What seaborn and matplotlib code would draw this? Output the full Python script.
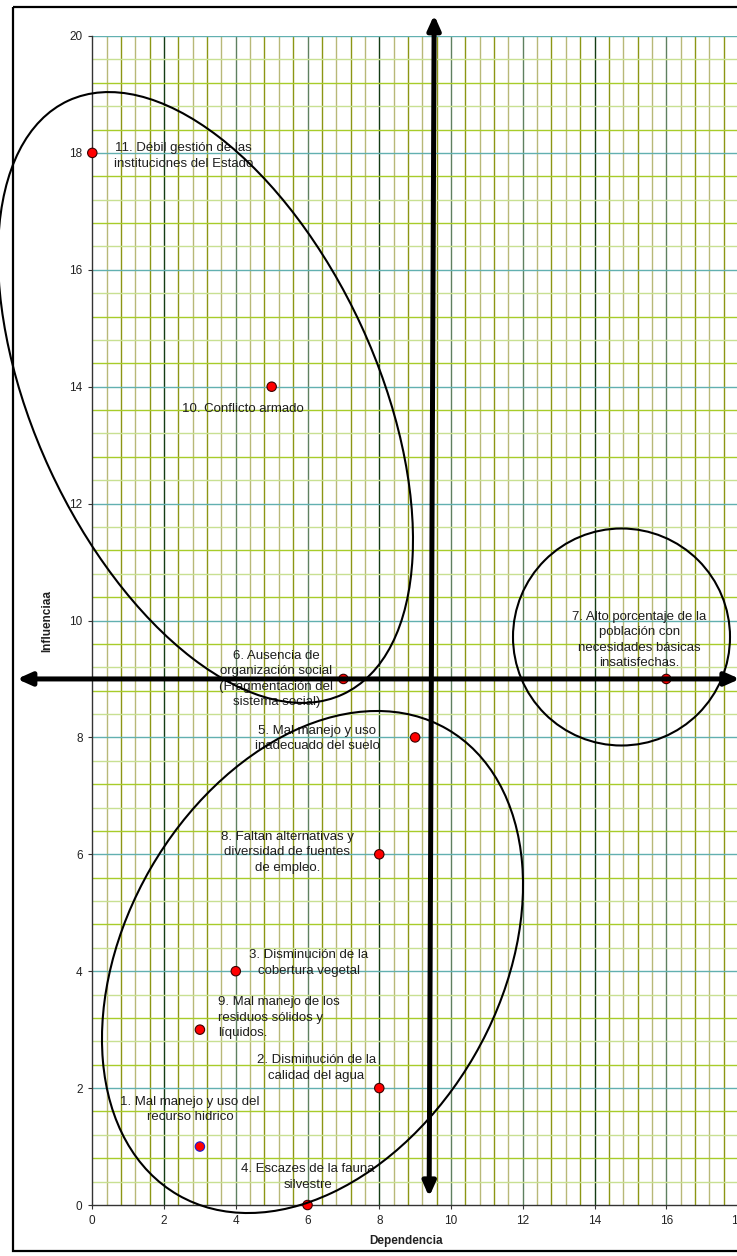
import numpy as np
import pandas as pd
import matplotlib
matplotlib.use("Agg")
import matplotlib.pyplot as plt
import seaborn as sns
from matplotlib.patches import Ellipse, Rectangle, FancyArrowPatch
from matplotlib.transforms import Affine2D

# ---------------- data ----------------
problem_labels = [
    "1. Mal manejo y uso del\nrecurso hidrico",
    "2. Disminución de la\ncalidad del agua",
    "3. Disminución de la\ncobertura vegetal",
    "4. Escazes de la fauna\nsilvestre",
    "5. Mal manejo y uso\ninadecuado del suelo",
    "6. Ausencia de\norganización social\n(Fragmentación del\nsistema social)",
    "7. Alto porcentaje de la\npoblación con\nnecesidades básicas\ninsatisfechas.",
    "8. Faltan alternativas y\ndiversidad de fuentes\nde empleo.",
    "9. Mal manejo de los\nresiduos sólidos y\nlíquidos.",
    "10. Conflicto armado",
    "11. Débil gestión de las\ninstituciones del Estado",
]
dependencia = [3, 8, 4, 6, 9, 7, 16, 8, 3, 5, 0]
influencia = [1, 2, 4, 0, 8, 9, 9, 6, 3, 14, 18]
x_ticks = [0, 2, 4, 6, 8, 10, 12, 14, 16, 18]
y_ticks = [0, 2, 4, 6, 8, 10, 12, 14, 16, 18, 20]
x_label = "Dependencia"
y_label = "Influenciaa"

df = pd.DataFrame({"dependencia": dependencia, "influencia": influencia,
                   "label": problem_labels})

# label offsets (pixels) and alignment
label_offsets = [(-10, 37), (-63, 20), (73, 8), (0, 28), (-98, -1), (-67, 0),
                 (-27, 39), (-92, 2), (18, 12), (-29, -22), (91, -3)]
label_ha = ["center"] * 8 + ["left"] + ["center"] * 2
edge_colors = ["#1a1acc"] + ["#3a0000"] * 10

# ---------------- figure ----------------
sns.set_style("ticks")
plt.rcParams["font.family"] = ["Liberation Sans", "DejaVu Sans"]

W, H = 737, 1256
fig = plt.figure(figsize=(W / 100, H / 100), dpi=100)
ax = fig.add_axes([92.3 / W, 1 - 1205 / H, 645.7 / W, 1169 / H])
ax.set_xlim(0, 18)
ax.set_ylim(0, 20)

# grid lines
vx = np.round(np.arange(0.4, 18.0, 0.4), 1)
vcol = []
for i, v in enumerate(vx):
    if abs(v / 2 - round(v / 2)) < 1e-6:
        vcol.append("#143c14" if int(round(v)) in (2, 8, 14) else "#5f8060")
    else:
        vcol.append("#b8b878" if i % 2 == 0 else "#8c9614")
ax.vlines(vx, 0, 20, colors=vcol, linewidth=1.0, zorder=0.5)

hy = np.round(np.arange(0.4, 20.01, 0.4), 1)
hcol = []
for i, v in enumerate(hy):
    if abs(v / 2 - round(v / 2)) < 1e-6:
        hcol.append("#62b0b0")
    else:
        hcol.append("#c8e092" if i % 2 == 0 else "#a8cc2a")
ax.hlines(hy, 0, 18, colors=hcol, linewidth=1.0, zorder=0.6)

# points
sns.scatterplot(data=df, x="dependencia", y="influencia", color="#ff0000",
                edgecolor=edge_colors, s=46, linewidth=0.8, zorder=5,
                clip_on=False, ax=ax, legend=False)

# labels
for (x, y, lab), (dx, dy), ha in zip(df[["dependencia", "influencia", "label"]].values,
                                     label_offsets, label_ha):
    ax.annotate(lab, xy=(x, y), xytext=(dx, dy), textcoords="offset pixels",
                ha=ha, va="center", multialignment=ha, fontsize=9.5,
                color="#1e1e1e", zorder=6, linespacing=1.38)

# axes styling
ax.set_xticks(x_ticks)
ax.set_yticks(y_ticks)
ax.tick_params(labelsize=8.5, length=3, width=0.8, colors="#333333",
               labelcolor="#222222", pad=4)
for s in ("top", "right"):
    ax.spines[s].set_visible(False)
for s in ("left", "bottom"):
    ax.spines[s].set_color("#333333")
    ax.spines[s].set_linewidth(1.0)
ax.set_xlabel(x_label, fontsize=8.5, fontweight="bold", color="#222222")
ax.set_ylabel(y_label, fontsize=8.5, fontweight="bold", color="#222222")
ax.xaxis.set_label_coords(0.486, -0.026)
ax.yaxis.set_label_coords(-0.061, 0.5)

# decorations in image-pixel coordinates
px = Affine2D().scale(1 / W, -1 / H).translate(0, 1) + fig.transFigure
fig.add_artist(Rectangle((13, 7), 740, 1244, transform=px, fill=False,
                         edgecolor="black", linewidth=1.6, zorder=1))
for (cx, cy, w, h, ang) in [(205.5, 397.5, 654, 343, 65.2),
                            (312.5, 962, 538, 374, -60),
                            (621.5, 637, 217, 217, 0)]:
    fig.add_artist(Ellipse((cx, cy), w, h, angle=ang, transform=px, fill=False,
                           edgecolor="black", linewidth=1.5, zorder=4))

# axes arrows
style = "<|-|>,head_length=0.85,head_width=0.38"
for a, b in [((-2.1, 9), (18.05, 9)), ((9.39, 0.14), (9.53, 20.36))]:
    arr = FancyArrowPatch(a, b, arrowstyle=style, mutation_scale=10,
                          linewidth=3.6, color="black", shrinkA=0, shrinkB=0,
                          clip_on=False, zorder=8)
    ax.add_patch(arr)

fig.savefig("out.png", dpi=100)
